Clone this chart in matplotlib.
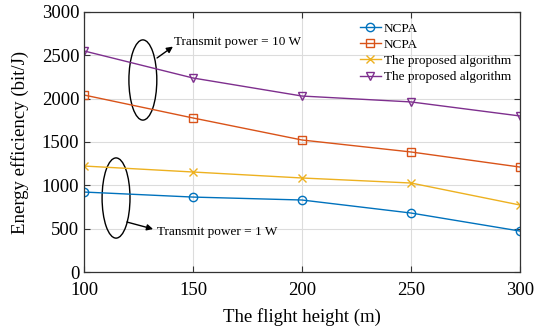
import matplotlib
matplotlib.use("Agg")
import matplotlib.pyplot as plt
from matplotlib.patches import Ellipse

# ----------------- DATA -----------------
heights = [100, 150, 200, 250, 300]
ncpa_1w = [923, 865, 831, 681, 473]
ncpa_10w = [2042, 1777, 1523, 1385, 1211]
prop_1w = [1223, 1154, 1085, 1027, 773]
prop_10w = [2550, 2238, 2030, 1962, 1800]

labels = ["NCPA", "NCPA", "The proposed algorithm", "The proposed algorithm"]
colors = ["#0072BD", "#D95319", "#EDB120", "#7E2F8E"]
markers = ["o", "s", "x", "v"]

plt.rcParams["font.family"] = ["Liberation Serif", "DejaVu Serif"]

fig = plt.figure(figsize=(5.35, 3.31), dpi=100)
ax = fig.add_axes([0.157, 0.178, 0.815, 0.786])

series = [ncpa_1w, ncpa_10w, prop_1w, prop_10w]
for ys, lab, c, m in zip(series, labels, colors, markers):
    ax.plot(heights, ys, color=c, marker=m, markersize=6, markerfacecolor="none",
            markeredgewidth=1.0, linewidth=1.0, label=lab)

ax.set_xlim(100, 300)
ax.set_ylim(0, 3000)
ax.set_xticks([100, 150, 200, 250, 300])
ax.set_yticks(range(0, 3001, 500))
ax.grid(True, color="#dcdcdc", linewidth=0.8)
ax.set_axisbelow(True)
ax.tick_params(direction="in", top=True, right=True, labelsize=13.5, length=4, color="#333333")
ax.tick_params(axis="x", pad=7.5)
for s in ax.spines.values():
    s.set_color("#333333")
    s.set_linewidth(0.9)

ax.set_xlabel("The flight height (m)", fontsize=13.5, labelpad=6)
ax.set_ylabel("Energy efficiency (bit/J)", fontsize=13.5, labelpad=9)

leg = ax.legend(loc="upper right", bbox_to_anchor=(0.997, 0.99), fontsize=9.5, frameon=False,
                handlelength=1.6, handletextpad=0.2, labelspacing=0.3, borderaxespad=0.2)

# ----------------- ANNOTATIONS -----------------
# 10 W group
ax.add_patch(Ellipse((127, 2215), 12.8, 925, fill=False, edgecolor="black", linewidth=1.0))
ax.annotate("", xy=(140.8, 2600), xytext=(133.5, 2469),
            arrowprops=dict(arrowstyle="-|>", color="black", lw=1.0, shrinkA=0, shrinkB=0,
                            mutation_scale=9))
ax.text(141.3, 2654, "Transmit power = 10 W", fontsize=9.5, va="center", ha="left")

# 1 W group
ax.add_patch(Ellipse((114.7, 854), 12.8, 925, fill=False, edgecolor="black", linewidth=1.0))
ax.annotate("", xy=(131.7, 496), xytext=(119.7, 577),
            arrowprops=dict(arrowstyle="-|>", color="black", lw=1.0, shrinkA=0, shrinkB=0,
                            mutation_scale=9))
ax.text(133.5, 461, "Transmit power = 1 W", fontsize=9.5, va="center", ha="left")

fig.savefig("out.png", dpi=100)
